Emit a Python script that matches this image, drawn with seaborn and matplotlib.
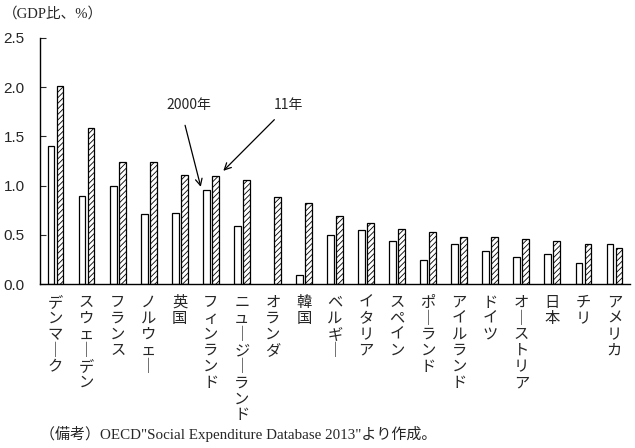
import numpy as np
import pandas as pd
import matplotlib.pyplot as plt
import seaborn as sns

# Social expenditure as % of GDP, 2000 vs 2011
countries = ["デンマーク", "スウェーデン", "フランス", "ノルウェー", "英国", "フィンランド",
             "ニュージーランド", "オランダ", "韓国", "ベルギー", "イタリア", "スペイン",
             "ポーランド", "アイルランド", "ドイツ", "オーストリア", "日本", "チリ", "アメリカ"]
y2000 = [1.40, 0.89, 1.00, 0.71, 0.72, 0.96, 0.59, np.nan, 0.09, 0.50,
         0.55, 0.44, 0.24, 0.41, 0.34, 0.27, 0.30, 0.21, 0.41]
y2011 = [2.01, 1.59, 1.24, 1.24, 1.11, 1.10, 1.06, 0.88, 0.82, 0.69,
         0.62, 0.56, 0.53, 0.48, 0.48, 0.46, 0.44, 0.41, 0.37]
years = ["2000", "2011"]
yticks = [0.0, 0.5, 1.0, 1.5, 2.0, 2.5]

sns.set_style("ticks")
plt.rcParams['font.family'] = ['Noto Sans CJK JP', 'DejaVu Sans']
plt.rcParams['hatch.linewidth'] = 0.6

df = pd.DataFrame({
    "country": countries * 2,
    "year": [years[0]] * len(countries) + [years[1]] * len(countries),
    "value": y2000 + y2011,
})

fig = plt.figure(figsize=(6.35, 4.48), dpi=100)
ax = fig.add_axes([40 / 635, 1 - 284 / 448, 590 / 635, 246 / 448])

sns.barplot(data=df, x="country", y="value", hue="year", order=countries,
            hue_order=years, palette=["white", "white"], edgecolor="black",
            linewidth=0.9, width=0.58, gap=0.25, legend=False, ax=ax)
for bar in ax.containers[1]:
    bar.set_hatch("//////")

ax.set_xlim(-0.5, len(countries) - 0.5)
ax.set_ylim(0, 2.5)
ax.set_yticks(yticks)
ax.set_yticklabels([f"{v:.1f}" for v in yticks], family="Liberation Sans", fontsize=11)
ax.tick_params(axis="y", direction="in", length=4, width=0.8, pad=11)

# vertical (tategaki) category labels
vlabels = ["\n".join(c.replace("ー", "｜")) for c in countries]
ax.set_xticks(range(len(countries)))
ax.set_xticklabels(vlabels, fontsize=11, linespacing=0.93, va="top")
ax.tick_params(axis="x", length=0, pad=7)

ax.set_xlabel("")
ax.set_ylabel("")
sns.despine(ax=ax)
for s in ["left", "bottom"]:
    ax.spines[s].set_linewidth(1.0)
    ax.spines[s].set_color("black")

# arrows pointing at the Finland pair
ax.annotate("", xy=(4.70, 0.96), xytext=(4.15, 1.64),
            arrowprops=dict(arrowstyle="->", lw=0.9, color="black", mutation_scale=12))
ax.annotate("", xy=(5.34, 1.13), xytext=(7.11, 1.69),
            arrowprops=dict(arrowstyle="->", lw=0.9, color="black", mutation_scale=12))
ax.text(4.28, 1.82, "2000年", ha="center", va="center", fontsize=10)
ax.text(7.49, 1.82, "11年", ha="center", va="center", fontsize=10)

fig.text(3 / 635, 1 - 14 / 448, "（GDP比、%）", ha="left", va="center",
         fontsize=10.5, family=["Liberation Serif", "Noto Sans CJK JP"])
fig.text(40 / 635, 1 - 434 / 448, "（備考）OECD\"Social Expenditure Database 2013\"より作成。",
         ha="left", va="center", fontsize=10.8, family=["Liberation Serif", "Noto Sans CJK JP"])

fig.savefig("out.png", dpi=100)
